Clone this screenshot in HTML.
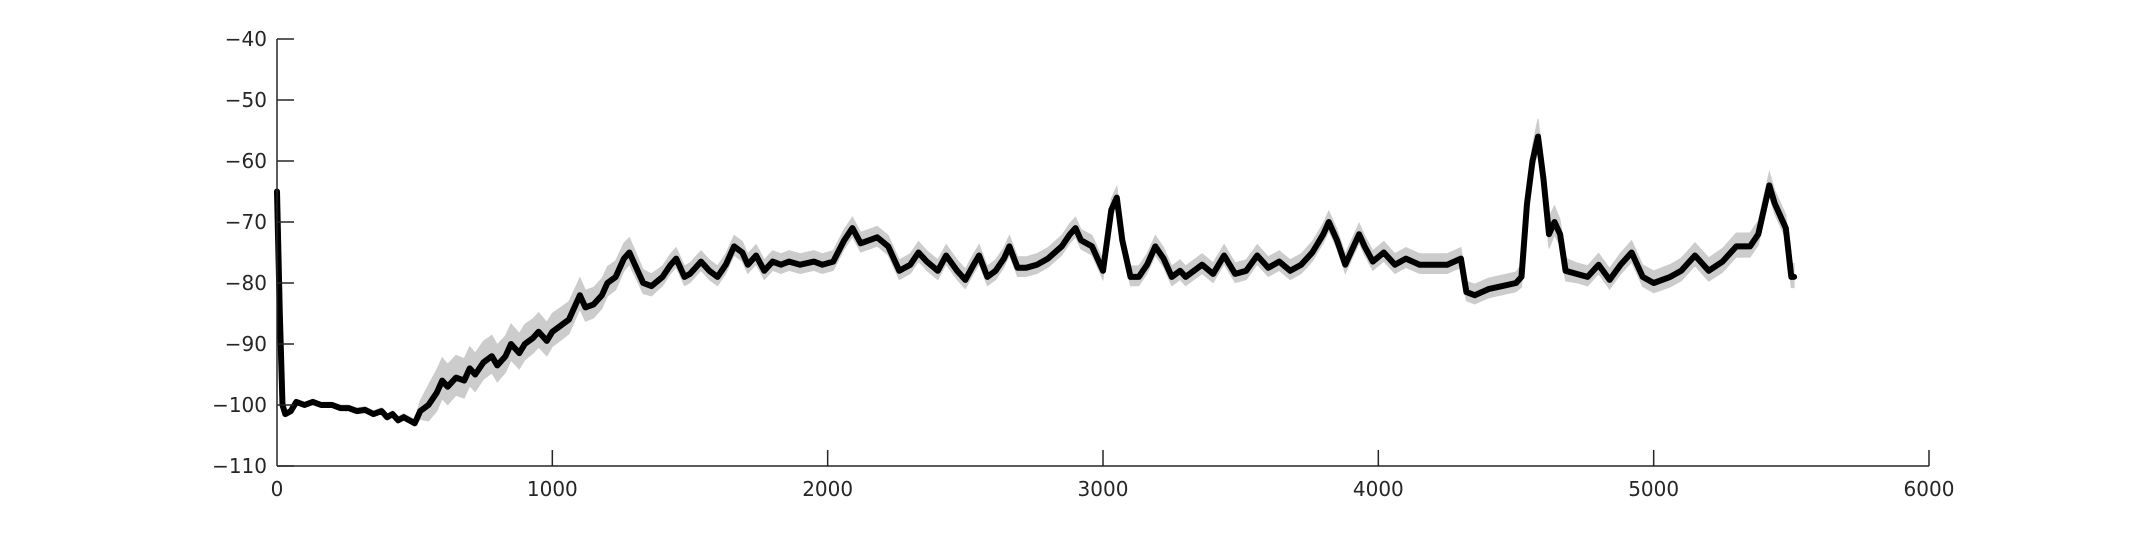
<!DOCTYPE html>
<html><head><meta charset="utf-8"><style>
html,body{margin:0;padding:0;background:#fff;}
svg{display:block;}
text{font-family:"DejaVu Sans","Liberation Sans",sans-serif;font-size:20px;fill:#262626;}
</style></head><body>
<svg id="chart" width="2133" height="533"></svg>
<script>
const times = [0,10,20,30,50,70,100,130,160,200,230,260,290,320,350,380,400,420,440,460,480,500,520,550,580,600,620,650,680,700,720,750,780,800,830,850,880,900,930,950,980,1000,1030,1060,1080,1100,1120,1150,1180,1200,1230,1260,1280,1300,1330,1360,1400,1430,1450,1480,1500,1540,1570,1600,1630,1660,1690,1710,1740,1770,1800,1830,1860,1900,1950,1980,2020,2060,2090,2120,2150,2180,2220,2260,2300,2330,2360,2400,2430,2470,2500,2530,2550,2580,2610,2640,2660,2690,2720,2760,2800,2850,2880,2900,2920,2960,3000,3030,3050,3070,3100,3130,3160,3190,3220,3250,3280,3300,3330,3360,3400,3440,3480,3520,3560,3600,3640,3680,3720,3760,3800,3820,3850,3880,3900,3930,3950,3980,4020,4060,4100,4150,4200,4250,4300,4320,4350,4400,4450,4500,4520,4540,4560,4580,4600,4620,4640,4660,4680,4720,4760,4800,4840,4880,4920,4960,5000,5060,5100,5150,5200,5250,5300,5350,5380,5400,5420,5440,5460,5480,5500,5510];
const meanValues = [-65,-85,-100,-101.5,-101,-99.5,-100,-99.5,-100,-100,-100.5,-100.5,-101,-100.8,-101.5,-101,-102,-101.5,-102.5,-102,-102.5,-103,-101,-100,-98,-96,-97,-95.5,-96,-94,-95,-93,-92,-93.5,-92,-90,-91.5,-90,-89,-88,-89.5,-88,-87,-86,-84,-82,-84,-83.5,-82,-80,-79,-76,-75,-77,-80,-80.5,-79,-77,-76,-79,-78.5,-76.5,-78,-79,-77,-74,-75,-77,-75.5,-78,-76.5,-77,-76.5,-77,-76.5,-77,-76.5,-73,-71,-73.5,-73,-72.5,-74,-78,-77,-75,-76.5,-78,-75.5,-78,-79.5,-77,-75.5,-79,-78,-76,-74,-77.5,-77.5,-77,-76,-74,-72,-71,-73,-74,-78,-68,-66,-73,-79,-79,-77,-74,-76,-79,-78,-79,-78,-77,-78.5,-75.5,-78.5,-78,-75.5,-77.5,-76.5,-78,-77,-75,-72,-70,-73,-77,-75,-72,-74,-76.5,-75,-77,-76,-77,-77,-77,-76,-81.5,-82,-81,-80.5,-80,-79,-67,-60,-56,-63,-72,-70,-72,-78,-78.5,-79,-77,-79.5,-77,-75,-79,-80,-79,-78,-75.5,-78,-76.5,-74,-74,-72,-68,-64,-67,-69,-71,-79,-79];
const spreadTimes = [0,500,560,1250,1400,4500,4600,4700,5300,5500];
const spreadValues = [0.4,0.6,3.8,2.6,1.8,1.8,3.2,1.8,2.2,2.2];
const xTicks = [0,1000,2000,3000,4000,5000,6000];
const yTicks = [-40,-50,-60,-70,-80,-90,-100,-110];

const NS='http://www.w3.org/2000/svg';
const svg=document.getElementById('chart');
const X0=277,X1=1929,Y0=39,Y1=466,xMin=0,xMax=6000,yMin=-110,yMax=-40;
const xs=t=>X0+(t-xMin)/(xMax-xMin)*(X1-X0);
const ys=v=>Y1-(v-yMin)/(yMax-yMin)*(Y1-Y0);
function mk(tag,attrs){const e=document.createElementNS(NS,tag);for(const k in attrs)e.setAttribute(k,attrs[k]);svg.appendChild(e);return e;}
function spreadAt(t){for(let i=1;i<spreadTimes.length;i++){if(t<=spreadTimes[i]){const a=spreadTimes[i-1],b=spreadTimes[i];const f=(t-a)/(b-a);return spreadValues[i-1]+f*(spreadValues[i]-spreadValues[i-1]);}}return spreadValues[spreadValues.length-1];}

let up=[],dn=[];
times.forEach((t,i)=>{const s=spreadAt(t);up.push(xs(t).toFixed(1)+','+ys(meanValues[i]+s).toFixed(1));dn.unshift(xs(t).toFixed(1)+','+ys(meanValues[i]-s*0.8).toFixed(1));});
const band=mk('polygon',{points:up.concat(dn).join(' '),fill:'#cccccc',stroke:'#cccccc','stroke-width':1});



const pts=times.map((t,i)=>xs(t).toFixed(1)+','+ys(meanValues[i]).toFixed(1)).join(' ');
const line=mk('polyline',{points:pts,fill:'none',stroke:'#000','stroke-width':6,'stroke-linejoin':'round','stroke-linecap':'round'});



const ya=mk('line',{x1:X0,y1:Y0,x2:X0,y2:Y1,stroke:'#262626','stroke-width':1.5});


const xa=mk('line',{x1:X0,y1:Y1,x2:X1,y2:Y1,stroke:'#262626','stroke-width':1.5});



yTicks.forEach(v=>{
  const tk=mk('line',{x1:X0,y1:ys(v),x2:X0+17,y2:ys(v),stroke:'#262626','stroke-width':1.5});
  
  
  const tx=mk('text',{x:X0-10,y:ys(v)+7,'text-anchor':'end'});
  tx.textContent=String(v).replace('-','\u2212');
  
  
});
xTicks.forEach(t=>{
  if(t>0){
    const tk=mk('line',{x1:xs(t),y1:Y1,x2:xs(t),y2:Y1-16,stroke:'#262626','stroke-width':1.5});
    
    
  }
  const tx=mk('text',{x:xs(t),y:Y1+30,'text-anchor':'middle'});
  tx.textContent=String(t);
  
  
});
</script>
</body></html>
